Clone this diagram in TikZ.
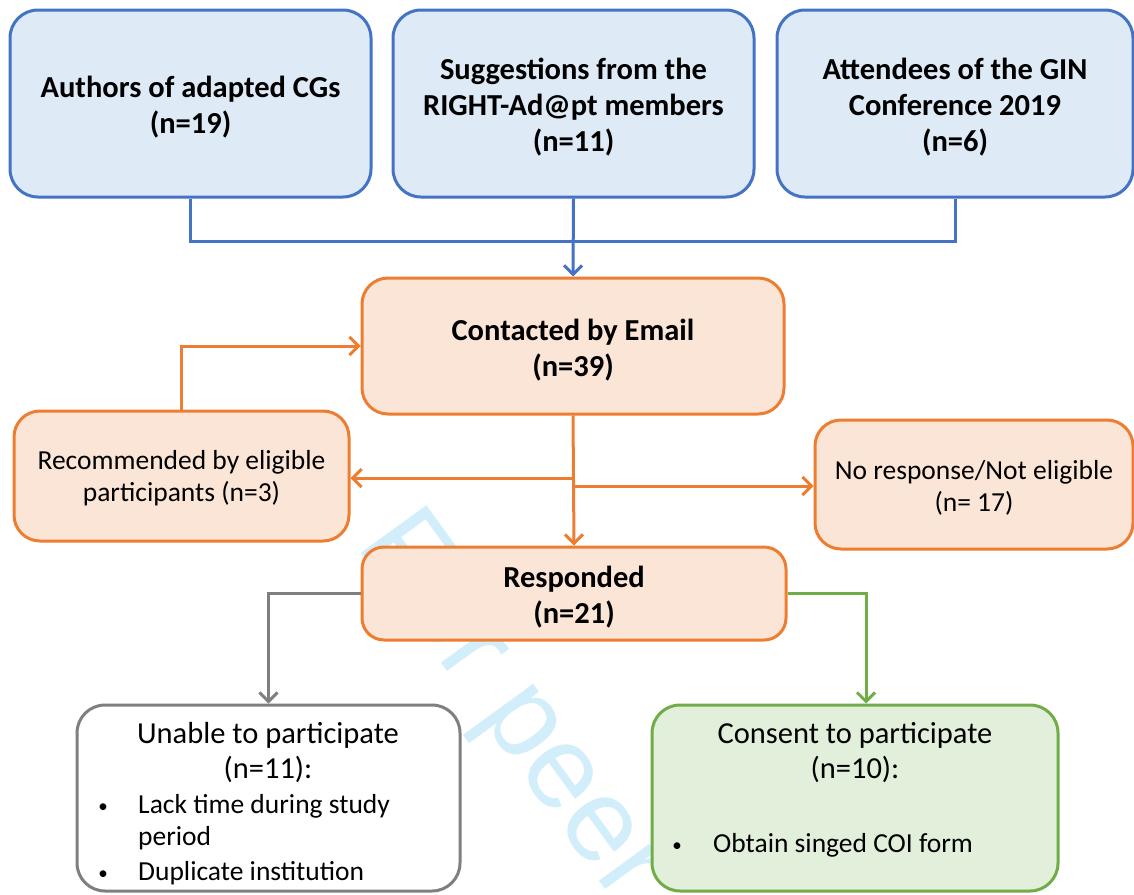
\documentclass[tikz,border=0pt]{standalone}
\usepackage{fontspec}
\setmainfont{Carlito}
\newfontfamily\wmfont{Liberation Sans}
\usetikzlibrary{arrows.meta}
\definecolor{bblue}{HTML}{4472C4}
\definecolor{fblue}{HTML}{DEEBF7}
\definecolor{borange}{HTML}{ED7D31}
\definecolor{forange}{HTML}{FBE5D6}
\definecolor{bgray}{HTML}{7F7F7F}
\definecolor{bgreen}{HTML}{70AD47}
\definecolor{fgreen}{HTML}{E2EFDA}
\definecolor{wmcol}{HTML}{D3EEFB}
\newcommand\fbold{\fontsize{30.5}{36}\selectfont\bfseries}
\newcommand\freg{\fontsize{27.5}{32}\selectfont}
\newcommand\fbot{\fontsize{30.5}{35}\selectfont}
\newcommand\fbul{\fontsize{27.5}{32}\selectfont}
\newcommand\fdot{\fontsize{19}{32}\selectfont}
\begin{document}
\begin{tikzpicture}[x=1pt,y=-1pt,
  box/.style={rounded corners=28pt, line width=3pt, inner sep=0pt},
  bluebox/.style={box, draw=bblue, fill=fblue},
  orangebox/.style={box, draw=borange, fill=forange},
  graybox/.style={box, draw=bgray, fill=white},
  greenbox/.style={box, draw=bgreen, fill=fgreen},
  lbl/.style={inner sep=0pt, align=center, yshift=-4pt},
  tip/.style={-{Straight Barb[length=9pt,width=18pt]}},
  conn/.style={line width=3pt},
  txt/.style={inner sep=0pt, anchor=base}
]
\useasboundingbox (0,0) rectangle (1134,894);
\fill[white] (0,0) rectangle (1134,894);

% watermark
\node[inner sep=0pt, anchor=base west, rotate=-54, text=wmcol,
      font=\wmfont\fontsize{118}{118}\selectfont] (wm) at (355,545) {For peer};

% top boxes
\node[bluebox, minimum width=361pt, minimum height=187pt] (b1) at (190.5,103.5) {};
\node[bluebox, minimum width=361pt, minimum height=187pt] (b2) at (573.5,103.5) {};
\node[bluebox, minimum width=356pt, minimum height=187pt] (b3) at (955,103.5) {};
\node[lbl, font=\fbold] (t1) at (b1.center) {Authors of adapted CGs\\(n=19)};
\node[lbl, font=\fbold] (t2) at (b2.center) {Suggestions from the\\RIGHT-Ad@pt members\\(n=11)};
\node[lbl, font=\fbold] (t3) at (b3.center) {Attendees of the GIN\\Conference 2019\\(n=6)};

% middle boxes
\node[orangebox, rounded corners=26pt, minimum width=422pt, minimum height=136pt] (contact) at (573,346) {};
\node[orangebox, rounded corners=26pt, minimum width=335pt, minimum height=130pt] (rec) at (181.5,476) {};
\node[orangebox, rounded corners=26pt, minimum width=318pt, minimum height=129pt] (nores) at (974,484.5) {};
\node[orangebox, rounded corners=22pt, minimum width=424pt, minimum height=93pt] (resp) at (574,593.5) {};
\node[lbl, font=\fbold] (tc) at (contact.center) {Contacted by Email\\(n=39)};
\node[lbl, font=\freg, yshift=2pt] (tr) at (rec.center) {Recommended by eligible\\participants (n=3)};
\node[lbl, font=\freg, yshift=1pt] (tn) at (nores.center) {No response/Not eligible\\(n= 17)};
\node[lbl, font=\fbold] (tp) at (resp.center) {Responded\\(n=21)};

% bottom boxes
\node[graybox, minimum width=383pt, minimum height=186pt] (unable) at (268.5,798) {};
\node[greenbox, minimum width=406pt, minimum height=186pt] (consent) at (855,798) {};

\node[txt, font=\fbot] (u1) at (268,743) {Unable to participate};
\node[txt, font=\fbot] (u2) at (268,778) {(n=11):};
\node[txt, font=\fdot] (u3b) at (103,812) {•};
\node[txt, anchor=base west, font=\fbul] (u3) at (138,813) {Lack time during study};
\node[txt, anchor=base west, font=\fbul] (u4) at (138,845) {period};
\node[txt, font=\fdot] (u5b) at (103,879) {•};
\node[txt, anchor=base west, font=\fbul] (u5) at (138,880) {Duplicate institution};

\node[txt, font=\fbot] (c1) at (855,743) {Consent to participate};
\node[txt, font=\fbot] (c2) at (855,778) {(n=10):};
\node[txt, font=\fdot] (c3b) at (677,851) {•};
\node[txt, anchor=base west, font=\fbul] (c3) at (713,852) {Obtain singed COI form};

% connectors
\draw[conn, draw=bblue] (b1.south) -- ++(0,43) -| (b3.south);
\draw[conn, draw=bblue, tip] (b2.south) -- (contact.north);

\draw[conn, draw=borange, tip] (rec.north) |- (contact.west);
\draw[conn, draw=borange, tip] (contact.south) -- (resp.north);
\coordinate (bl) at (573,478);
\coordinate (br) at (573,486);
\draw[conn, draw=borange, tip] (bl) -- (bl -| rec.east);
\draw[conn, draw=borange, tip] (br) -- (br -| nores.west);

\draw[conn, draw=bgray, tip] (resp.west) -| (unable.north);
\coordinate (gdrop) at ([xshift=11pt]consent.north);
\draw[conn, draw=bgreen, tip] (resp.east) -| (gdrop);
\end{tikzpicture}
\end{document}
